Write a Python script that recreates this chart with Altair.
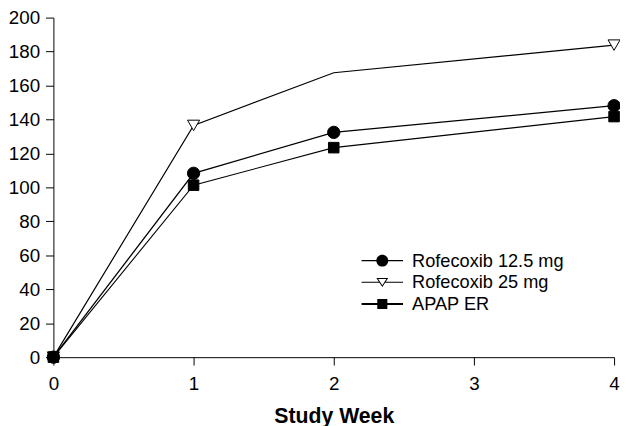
import altair as alt
import pandas as pd

# ---- data ----
weeks = [0, 1, 2, 4]
series_names = ["Rofecoxib 12.5 mg", "Rofecoxib 25 mg", "APAP ER"]
rofe_12_5 = [0, 108.3, 132.4, 148.1]
rofe_25 = [0, 136.5, 167.5, 183.8]
apap_er = [0, 101.3, 123.4, 141.7]
# in the original the 25 mg series shows no marker at week 2
unmarked = [("Rofecoxib 25 mg", 2)]

x_ticks = [0, 1, 2, 3, 4]
y_ticks = [0, 20, 40, 60, 80, 100, 120, 140, 160, 180, 200]

rows = []
for name, vals in zip(series_names, [rofe_12_5, rofe_25, apap_er]):
    for w, v in zip(weeks, vals):
        rows.append({"series": name, "week": w, "value": v,
                     "marked": (name, w) not in unmarked})
df = pd.DataFrame(rows)

FONT = "Liberation Sans"

marker_shapes = ["circle", "triangle-down", "square"]
marker_fills = ["black", "white", "black"]
marker_sizes = [156, 150, 114]
line_widths = [1.3, 1.1, 2.0]

x_enc = alt.X("week:Q",
              scale=alt.Scale(domain=[0, 4], nice=False, zero=False),
              axis=alt.Axis(values=x_ticks, title="Study Week", format="d",
                            labelFlush=False, labelPadding=10, titlePadding=12,
                            titleFontSize=21.5, titleFontWeight="bold"))
y_enc = alt.Y("value:Q",
              scale=alt.Scale(domain=[0, 200], nice=False),
              axis=alt.Axis(values=y_ticks, title=None, labelPadding=6))

lines = alt.Chart(df).mark_line(color="black").encode(
    x=x_enc, y=y_enc, detail="series:N",
    strokeWidth=alt.StrokeWidth("series:N",
                                scale=alt.Scale(domain=series_names, range=line_widths),
                                legend=None),
)

point_layers = []
for name, shp, fl, sz in zip(series_names, marker_shapes, marker_fills, marker_sizes):
    point_layers.append(
        alt.Chart(df).transform_filter(
            alt.datum.series == name
        ).transform_filter("datum.marked").mark_point(
            shape=shp, fill=fl, filled=True, stroke="black", strokeWidth=1,
            size=sz, opacity=1
        ).encode(x=x_enc, y=y_enc)
    )

# legend glyphs (line + marker), drawn as filled outlines
legend_paths = [
    "M-3.5,-0.11H3.5V0.11H-3.5ZM-1,0A1,1,0,1,1,1,0A1,1,0,1,1,-1,0Z",
    "M-3.5,-0.085H-0.5V0.085H-3.5ZM0.5,-0.085H3.5V0.085H0.5Z"
    "M-1,-0.75L1,-0.75L0,0.8ZM-0.688,-0.58L0,0.486L0.688,-0.58Z",
    "M-3.5,-0.17H3.5V0.17H-3.5ZM-0.85,-0.85H0.85V0.85H-0.85Z",
]
legend_fills = ["black", "black", "black"]
leg = alt.Legend(title=None, orient="none", legendX=324, legendY=237,
                 symbolSize=144, labelOffset=21, rowPadding=3, padding=0,
                 labelFontSize=18.4, labelFont=FONT, labelColor="black",
                 symbolOpacity=1)

# layer of zero-size marks that only carries the legend
legend_layer = alt.Chart(df).mark_point(
    filled=True, color="black", size=0
).encode(
    x=x_enc, y=y_enc,
    shape=alt.Shape("series:N", scale=alt.Scale(domain=series_names, range=legend_paths), legend=leg),
    fill=alt.Fill("series:N", scale=alt.Scale(domain=series_names, range=legend_fills), legend=leg),
)

chart = alt.layer(lines, *point_layers, legend_layer).resolve_scale(
    shape="independent", fill="independent"
).properties(
    width=568, height=344,
    autosize=alt.AutoSizeParams(type="none"),
    padding={"left": 46, "top": 7, "right": 6, "bottom": 67},
    background="white",
).configure_view(stroke="transparent").configure_axis(
    labelFont=FONT, labelFontSize=19, labelColor="black",
    titleFont=FONT, titleColor="black",
    domainColor="black", tickColor="black", tickSize=8, grid=False,
    domainWidth=1, tickWidth=1,
)

chart.save("out.html", embed_options={"renderer": "svg", "actions": False})
